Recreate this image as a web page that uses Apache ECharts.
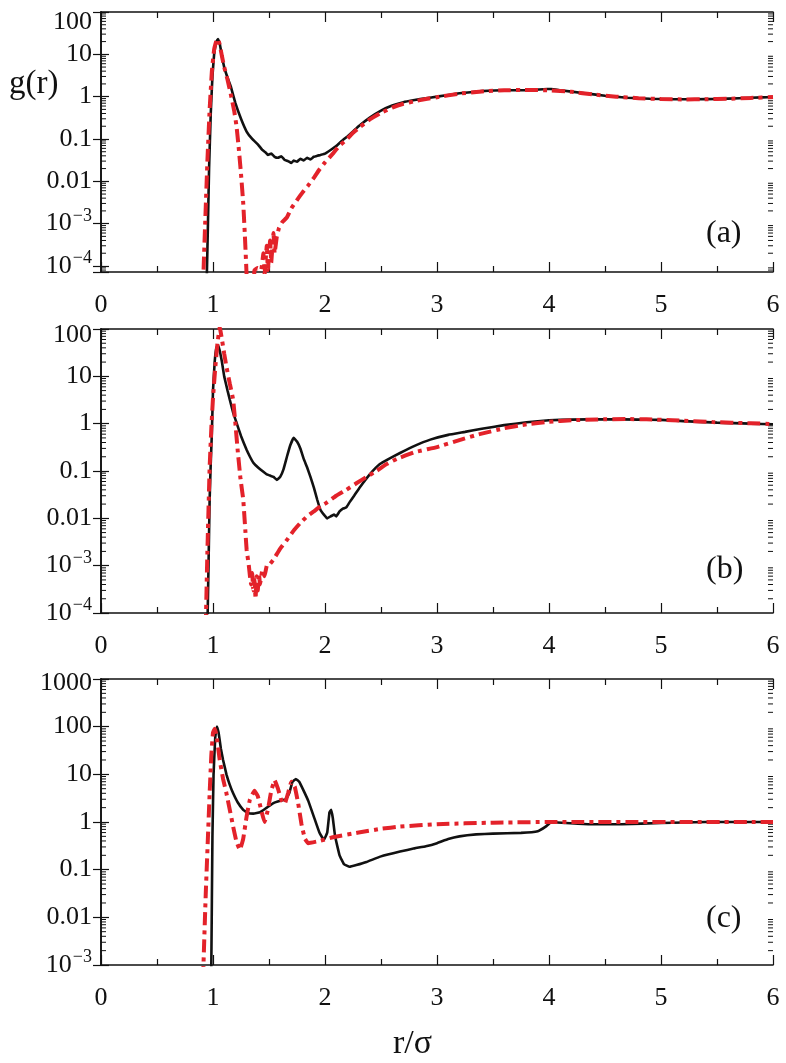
<!DOCTYPE html>
<html>
<head>
<meta charset="utf-8">
<script src="https://cdn.jsdelivr.net/npm/echarts@6/dist/echarts.min.js"></script>
<style>
html,body{margin:0;padding:0;background:#fff;}
#chart{width:786px;height:1063px;}
</style>
</head>
<body>
<div id="chart"></div>
<script>
// ---------- DATA ----------
const xTicks = [0, 1, 2, 3, 4, 5, 6];
const panelLabels = ['(a)', '(b)', '(c)'];
const yRanges = [[7.2e-5, 100], [1e-4, 100], [1e-3, 1000]];

// Panel (a)
const rA_black = [0.93,0.945,0.955,0.965,0.98,0.995,1.01,1.03,1.045,1.06,1.08,1.10,1.13,1.16,1.20,1.25,1.30,1.35,1.40,1.44,1.47,1.49,1.52,1.55,1.58,1.61,1.64,1.67,1.70,1.72,1.75,1.78,1.81,1.84,1.87,1.90,1.93,1.96,2.00,2.05,2.10,2.15,2.20,2.25,2.30,2.40,2.50,2.60,2.70,2.80,2.90,3.00,3.20,3.40,3.60,3.80,3.95,4.02,4.10,4.30,4.50,4.70,4.90,5.10,5.30,5.50,5.70,5.90,6.00];
const gA_black = [1e-6,6e-5,1e-3,0.02,0.4,3,10,20,23,18,9,5,2.8,1.7,0.7,0.3,0.15,0.1,0.075,0.055,0.048,0.042,0.045,0.038,0.036,0.039,0.032,0.030,0.027,0.031,0.029,0.034,0.031,0.036,0.033,0.038,0.040,0.042,0.045,0.055,0.068,0.09,0.115,0.15,0.2,0.32,0.47,0.62,0.74,0.83,0.92,1.0,1.2,1.35,1.42,1.42,1.5,1.52,1.42,1.22,1.05,0.94,0.89,0.87,0.87,0.88,0.92,0.96,0.98];
const rA_red = [0.90,0.915,0.93,0.95,0.97,0.99,1.01,1.03,1.045,1.06,1.08,1.10,1.13,1.16,1.19,1.21,1.23,1.25,1.27,1.285,1.30,1.31,1.34,1.37,1.40,1.43,1.45,1.46,1.48,1.49,1.51,1.52,1.54,1.55,1.57,1.59,1.62,1.66,1.70,1.75,1.80,1.85,1.90,1.95,2.00,2.07,2.13,2.19,2.25,2.31,2.40,2.49,2.60,2.70,2.80,2.90,3.00,3.20,3.40,3.60,3.80,4.00,4.20,4.40,4.60,4.80,5.00,5.20,5.40,5.60,5.80,6.00];
const gA_red = [1e-6,7e-5,1e-3,0.03,0.5,4,13,21,23,17,9,5,2.5,1.1,0.45,0.2,0.06,0.015,3e-3,5e-4,6e-5,1e-6,1e-6,8e-5,9e-5,8e-5,2e-4,6e-5,3e-4,8e-5,4e-4,1.2e-4,6e-4,2e-4,5e-4,8e-4,1.1e-3,1.4e-3,2.3e-3,3.6e-3,5.5e-3,8e-3,0.012,0.019,0.028,0.045,0.07,0.095,0.14,0.19,0.29,0.40,0.55,0.68,0.78,0.88,0.97,1.18,1.33,1.42,1.43,1.42,1.3,1.12,1.0,0.92,0.88,0.86,0.87,0.89,0.93,0.98];

// Panel (b)
const rB_black = [0.93,0.95,0.96,0.97,0.98,0.99,1.00,1.015,1.03,1.045,1.06,1.08,1.10,1.13,1.15,1.18,1.21,1.25,1.30,1.33,1.36,1.40,1.45,1.48,1.51,1.54,1.57,1.60,1.63,1.66,1.69,1.72,1.75,1.78,1.81,1.84,1.87,1.90,1.93,1.96,1.99,2.02,2.05,2.08,2.10,2.13,2.16,2.19,2.22,2.26,2.31,2.40,2.49,2.57,2.67,2.80,2.94,3.10,3.25,3.40,3.60,3.80,4.00,4.20,4.50,4.80,5.00,5.20,5.50,5.80,6.00];
const gB_black = [1e-6,5e-5,1e-3,0.025,0.15,0.64,5,20,40,46,35,20,10,5,3.2,1.7,1.05,0.55,0.28,0.2,0.15,0.12,0.096,0.085,0.08,0.075,0.065,0.075,0.11,0.2,0.35,0.5,0.42,0.3,0.18,0.12,0.075,0.045,0.025,0.015,0.012,0.010,0.011,0.012,0.011,0.014,0.016,0.017,0.022,0.03,0.045,0.085,0.14,0.18,0.24,0.34,0.46,0.58,0.67,0.78,0.93,1.07,1.18,1.22,1.24,1.22,1.2,1.13,1.05,1.0,0.97];
const rB_red = [0.92,0.935,0.95,0.97,0.985,1.00,1.02,1.04,1.06,1.08,1.10,1.12,1.15,1.18,1.20,1.22,1.245,1.27,1.29,1.30,1.32,1.33,1.34,1.35,1.36,1.37,1.38,1.39,1.40,1.41,1.42,1.44,1.46,1.48,1.51,1.54,1.60,1.66,1.72,1.78,1.84,1.90,1.96,2.01,2.10,2.19,2.28,2.37,2.46,2.55,2.64,2.80,3.00,3.20,3.38,3.60,3.80,4.00,4.20,4.43,4.70,4.87,5.10,5.46,5.80,6.00];
const gB_red = [1e-6,5e-5,2e-3,0.12,0.8,3.5,15,50,110,60,30,16,7,3.2,1,0.28,0.07,0.025,5e-3,2.2e-3,1e-3,6e-4,4e-4,7e-4,3e-4,5e-4,2e-4,6e-4,3e-4,7e-4,4e-4,8e-4,6e-4,1e-3,1.1e-3,1.35e-3,2.3e-3,3.5e-3,5.5e-3,8e-3,0.011,0.014,0.018,0.021,0.03,0.04,0.055,0.075,0.1,0.14,0.18,0.25,0.32,0.45,0.6,0.8,0.97,1.1,1.18,1.23,1.25,1.24,1.18,1.08,1.02,0.98];

// Panel (c)
const rC_black = [0.975,0.985,0.995,1.005,1.02,1.035,1.05,1.07,1.09,1.12,1.15,1.18,1.22,1.27,1.31,1.36,1.42,1.48,1.54,1.60,1.65,1.68,1.71,1.74,1.77,1.81,1.85,1.90,1.95,1.99,2.02,2.04,2.055,2.07,2.09,2.13,2.17,2.22,2.28,2.37,2.50,2.67,2.80,2.90,3.00,3.10,3.20,3.35,3.50,3.75,3.90,3.97,4.02,4.15,4.35,4.65,5.00,5.40,6.00];
const gC_black = [1e-5,1e-3,0.5,10,60,100,75,35,20,10,6,4,2.6,1.8,1.55,1.5,1.6,2.0,2.5,2.8,3.0,4.0,7,8,7,4.5,2.8,1.3,0.6,0.42,0.6,1.6,1.8,1.2,0.5,0.2,0.13,0.115,0.125,0.145,0.19,0.24,0.28,0.31,0.36,0.44,0.5,0.55,0.57,0.59,0.64,0.8,1.0,0.95,0.9,0.9,0.95,1.0,1.0];
const rC_red = [0.90,0.915,0.935,0.955,0.97,0.985,1.00,1.015,1.03,1.06,1.09,1.12,1.15,1.18,1.21,1.24,1.27,1.30,1.33,1.37,1.40,1.43,1.46,1.49,1.52,1.55,1.58,1.61,1.64,1.67,1.70,1.73,1.76,1.79,1.82,1.85,1.95,2.07,2.30,2.50,2.67,3.00,3.50,4.00,6.00];
const gC_red = [1e-5,1e-3,0.03,0.5,4,25,75,90,70,20,8,4,1.8,0.8,0.38,0.26,0.45,1.3,3,4.5,3.5,1.8,1.0,1.8,4.5,7.5,5,2.9,2.4,4,7,5.5,2.5,0.9,0.45,0.36,0.4,0.48,0.6,0.72,0.8,0.9,0.97,1.0,1.0];

const panels = [
  {black: [rA_black, gA_black], red: [rA_red, gA_red]},
  {black: [rB_black, gB_black], red: [rB_red, gB_red]},
  {black: [rC_black, gC_black], red: [rC_red, gC_red]}
];

// ---------- CHART ----------
const FONT = '"Liberation Serif", "DejaVu Serif", serif';
const RED = '#e3222a';
const zip = (xs, ys) => xs.map((x, i) => [x, ys[i]]);

const gridPos = [
  {left: 101, top: 12, width: 672, height: 260},
  {left: 101, top: 329, width: 672, height: 284},
  {left: 101, top: 679, width: 672, height: 286}
];
const topShift = [10, 6, 4];
const FS = 26;

function minorValues(range) {
  const out = [];
  const lo = Math.floor(Math.log10(range[0])), hi = Math.ceil(Math.log10(range[1]));
  for (let e = lo; e < hi; e++) {
    for (let k = 2; k <= 9; k++) {
      const v = k * Math.pow(10, e);
      if (v > range[0] && v < range[1]) out.push([0, v]);
    }
  }
  return out;
}

function yFormatter(range) {
  return function (v) {
    const l = Math.log10(v);
    const e = Math.round(l);
    if (Math.abs(l - e) > 0.01) return '';
    let txt;
    if (e >= -2) txt = '{b|' + (e >= 0 ? String(Math.pow(10, e)) : (e === -1 ? '0.1' : '0.01')) + '}';
    else txt = '{b|10}{s|\u2212' + (-e) + '}';
    if (Math.abs(l - Math.log10(range[1])) < 0.01) {
      txt = txt.replace('{b|', '{t|');
    }
    return txt;
  };
}

const grid = [], xAxis = [], yAxis = [], series = [];
gridPos.forEach((g, i) => {
  grid.push(Object.assign({containLabel: false}, g));
  const axLine = {show: true, lineStyle: {color: '#111', width: 1.6}};
  xAxis.push({
    type: 'value', gridIndex: i, min: 0, max: 6, interval: 1, position: 'bottom',
    axisLine: axLine,
    axisTick: {show: true, inside: true, length: 10, lineStyle: {color: '#111', width: 1.2}},
    minorTick: {show: true, splitNumber: 2, length: 6, lineStyle: {color: '#111', width: 1.2}},
    splitLine: {show: false},
    axisLabel: {show: true, margin: 20, fontFamily: FONT, fontSize: FS, color: '#111'}
  });
  xAxis.push({
    type: 'value', gridIndex: i, min: 0, max: 6, interval: 1, position: 'top',
    axisLine: axLine,
    axisTick: {show: true, inside: true, length: 10, lineStyle: {color: '#111', width: 1.2}},
    minorTick: {show: true, splitNumber: 2, length: 6, lineStyle: {color: '#111', width: 1.2}},
    splitLine: {show: false},
    axisLabel: {show: false}
  });
  const rg = yRanges[i];
  yAxis.push({
    type: 'log', gridIndex: i, min: rg[0], max: rg[1], logBase: 10, position: 'left',
    axisLine: axLine,
    axisTick: {show: true, inside: true, length: 8, lineStyle: {color: '#111', width: 1.2}},
    splitLine: {show: false},
    axisLabel: {
      show: true, margin: 9, fontFamily: FONT, fontSize: FS, color: '#111',
      formatter: yFormatter(rg),
      rich: {
        b: {fontFamily: FONT, fontSize: FS, color: '#111'},
        t: {fontFamily: FONT, fontSize: FS, color: '#111', padding: [topShift[i] * 2, 0, 0, 0]},
        s: {fontFamily: FONT, fontSize: 18, color: '#111', padding: [0, 0, 15, 1]}
      }
    }
  });
  yAxis.push({
    type: 'log', gridIndex: i, min: rg[0], max: rg[1], logBase: 10, position: 'right',
    axisLine: axLine,
    axisTick: {show: true, inside: true, length: 8, lineStyle: {color: '#111', width: 1.2}},
    splitLine: {show: false},
    axisLabel: {show: false}
  });
  // log minor ticks
  series.push({
    type: 'custom', xAxisIndex: i * 2, yAxisIndex: i * 2, silent: true, clip: false, z: 1,
    data: minorValues(rg),
    renderItem: function (params, api) {
      const cs = params.coordSys;
      const y = api.coord([0, api.value(1)])[1];
      const st = {stroke: '#111', lineWidth: 1};
      return {
        type: 'group', children: [
          {type: 'line', shape: {x1: cs.x, y1: y, x2: cs.x + 5, y2: y}, style: st},
          {type: 'line', shape: {x1: cs.x + cs.width - 5, y1: y, x2: cs.x + cs.width, y2: y}, style: st}
        ]
      };
    }
  });
  series.push({
    type: 'line', xAxisIndex: i * 2, yAxisIndex: i * 2, showSymbol: false, symbol: 'none',
    data: zip(panels[i].black[0], panels[i].black[1]), smooth: 0.08, clip: true, z: 3,
    lineStyle: {color: '#111', width: 2.6}
  });
  series.push({
    type: 'line', xAxisIndex: i * 2, yAxisIndex: i * 2, showSymbol: false, symbol: 'none',
    data: zip(panels[i].red[0], panels[i].red[1]), smooth: 0.08, clip: true, z: 4,
    lineStyle: {color: RED, width: 4, type: [13, 5, 4, 5]}
  });
});

const graphic = [
  {type: 'text', left: 9, top: 68, style: {text: 'g(r)', font: '33px ' + FONT, fill: '#111'}},
  {type: 'text', left: 393, top: 1027, style: {text: 'r/\u03c3', font: '34px ' + FONT, fill: '#111'}}
];
const labelTops = [218, 554, 903];
panelLabels.forEach((t, i) => {
  graphic.push({type: 'text', left: 706, top: labelTops[i], style: {text: t, font: '32px ' + FONT, fill: '#111'}});
});

const chart = echarts.init(document.getElementById('chart'), null, {renderer: 'canvas'});
chart.setOption({
  animation: false,
  backgroundColor: '#fff',
  grid, xAxis, yAxis, series, graphic
});
</script>
</body>
</html>
